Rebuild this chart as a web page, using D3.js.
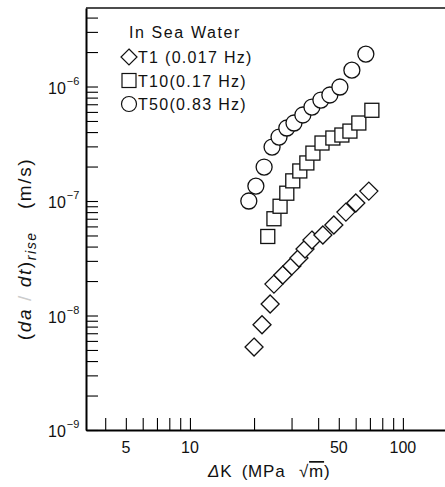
<!DOCTYPE html>
<html>
<head>
<meta charset="utf-8">
<script src="https://cdn.jsdelivr.net/npm/d3@7"></script>
<style>
  body { margin: 0; background: #fff; }
  text { font-family: "Liberation Sans", Arial, sans-serif; fill: #111; }
</style>
</head>
<body>
<div id="chart"></div>
<script>
// values: dK (MPa sqrt m), (da/dt)rise (m/s)
var t1K = [20.0, 21.8, 23.8, 24.8, 27.3, 30.1, 32.5, 34.7, 37.4, 42.1, 47.4, 54.0, 60.1, 69.2];
var t1V = [5.3e-9, 8.3e-9, 1.26e-8, 1.88e-8, 2.26e-8, 2.71e-8, 3.18e-8, 3.81e-8, 4.56e-8, 5.05e-8, 6.17e-8, 8.0e-8, 9.6e-8, 1.22e-7];
var t10K = [23.2, 24.8, 26.5, 28.5, 30.4, 32.8, 35.4, 37.8, 41.7, 46.9, 51.7, 56.4, 62.1, 71.5];
var t10V = [4.9e-8, 7.0e-8, 9.0e-8, 1.17e-7, 1.5e-7, 1.83e-7, 2.15e-7, 2.62e-7, 3.21e-7, 3.55e-7, 3.77e-7, 4.08e-7, 4.8e-7, 6.2e-7];
var t50K = [18.9, 20.4, 22.3, 24.3, 26.2, 28.5, 30.8, 33.9, 37.4, 41.2, 45.4, 50.6, 57.6, 67.0];
var t50V = [1.0e-7, 1.35e-7, 1.98e-7, 2.96e-7, 3.62e-7, 4.34e-7, 4.8e-7, 5.64e-7, 6.62e-7, 7.62e-7, 8.43e-7, 9.9e-7, 1.39e-6, 1.92e-6];

var xTicks = [4, 5, 6, 7, 8, 9, 10, 20, 30, 40, 50, 60, 70, 80, 90, 100];
var xLabels = [5, 10, 50, 100];
var yTicks = [1e-9, 2e-9, 3e-9, 4e-9, 5e-9, 6e-9, 7e-9, 8e-9, 9e-9,
              1e-8, 2e-8, 3e-8, 4e-8, 5e-8, 6e-8, 7e-8, 8e-8, 9e-8,
              1e-7, 2e-7, 3e-7, 4e-7, 5e-7, 6e-7, 7e-7, 8e-7, 9e-7,
              1e-6, 2e-6, 3e-6, 4e-6];
var yLabels = [-9, -8, -7, -6];
var legendRows = ["T1 (0.017 Hz)", "T10(0.17 Hz)", "T50(0.83 Hz)"];

var w = 445, h = 487;
var padL = 86, padT = 8, padB = 430;

var svg = d3.select("#chart").append("svg")
	.attr("width", w)
	.attr("height", h);

var x = d3.scaleLog().domain([3.25, 200]).range([padL, 467]);
var y = d3.scaleLog().domain([1e-9, 4.85e-6]).range([padB, padT]);

// frame top (right side runs off the picture)
svg.append("line")
	.attr("x1", padL).attr("x2", w)
	.attr("y1", padT).attr("y2", padT)
	.attr("stroke", "#111").attr("stroke-width", 1.6);

var xAxis = d3.axisBottom(x).tickValues(xTicks).tickFormat("").tickSizeInner(-12).tickSizeOuter(0);
svg.append("g")
	.attr("transform", "translate(0," + padB + ")")
	.call(xAxis)
	.call(function(g){
		g.select(".domain").attr("stroke-width", 1.8);
		g.selectAll(".tick line").attr("stroke-width", 1.1);
	});

var yAxis = d3.axisLeft(y).tickValues(yTicks).tickFormat("").tickSizeInner(-12).tickSizeOuter(0);
svg.append("g")
	.attr("transform", "translate(" + padL + ",0)")
	.call(yAxis)
	.call(function(g){
		g.select(".domain").attr("stroke-width", 2);
		g.selectAll(".tick line").attr("stroke-width", 1.1);
	});

// tick labels
svg.selectAll(".xlab")
	.data(xLabels)
	.enter().append("text")
	.attr("class", "xlab")
	.attr("x", function(d){ return x(d); })
	.attr("y", 453)
	.attr("text-anchor", "middle")
	.attr("font-size", 16)
	.text(function(d){ return d; });

var ylab = svg.selectAll(".ylab")
	.data(yLabels)
	.enter().append("text")
	.attr("class", "ylab")
	.attr("x", 48)
	.attr("y", function(d){ return y(Math.pow(10, d)) + 7; })
	.attr("font-size", 16);
ylab.append("tspan").text("10");
ylab.append("tspan")
	.attr("dy", -9)
	.attr("dx", 1)
	.attr("font-size", 11)
	.text(function(d){ return "\u2212" + (-d); });

// axis titles
var xt = svg.append("text")
	.attr("x", 208)
	.attr("y", 477)
	.attr("font-size", 17)
	.attr("letter-spacing", 0.8);
xt.append("tspan").attr("font-style", "italic").text("\u0394");
xt.append("tspan").text("K\u2002(MPa\u2002\u2009\u221A");
xt.append("tspan").attr("text-decoration", "overline").text("m");
xt.append("tspan").text(")");

var yt = svg.append("text")
	.attr("transform", "translate(31,249) rotate(-90)")
	.attr("text-anchor", "middle")
	.attr("font-size", 19)
	.attr("letter-spacing", 1.6);
yt.append("tspan").text("(");
yt.append("tspan").attr("font-style", "italic").text("da");
yt.append("tspan").attr("fill", "#ccc").text("  /  ");
yt.append("tspan").attr("font-style", "italic").text("dt");
yt.append("tspan").text(")");
yt.append("tspan").attr("font-style", "italic").attr("font-size", 14).attr("dy", 5).text("rise");
yt.append("tspan").attr("dy", -5).text("\u2002\u2002(m/s)");

// data
function pts(K, V){ return K.map(function(k, i){ return [k, V[i]]; }); }

svg.selectAll(".t50")
	.data(pts(t50K, t50V))
	.enter().append("circle")
	.attr("class", "t50")
	.attr("cx", function(d){ return x(d[0]); })
	.attr("cy", function(d){ return y(d[1]); })
	.attr("r", 8)
	.attr("fill", "#fff").attr("stroke", "#111").attr("stroke-width", 1.3);

svg.selectAll(".t10")
	.data(pts(t10K, t10V))
	.enter().append("rect")
	.attr("class", "t10")
	.attr("x", function(d){ return x(d[0]) - 7; })
	.attr("y", function(d){ return y(d[1]) - 7; })
	.attr("width", 14).attr("height", 14)
	.attr("fill", "#fff").attr("stroke", "#111").attr("stroke-width", 1.3);

svg.selectAll(".t1")
	.data(pts(t1K, t1V))
	.enter().append("path")
	.attr("class", "t1")
	.attr("d", "M0,-9L9,0L0,9L-9,0Z")
	.attr("transform", function(d){ return "translate(" + x(d[0]) + "," + y(d[1]) + ")"; })
	.attr("fill", "#fff").attr("stroke", "#111").attr("stroke-width", 1.3);

// legend
svg.append("text")
	.attr("x", 129).attr("y", 38)
	.attr("font-size", 16)
	.attr("letter-spacing", 1.6)
	.text("In Sea Water");

var leg = svg.selectAll(".leg")
	.data(legendRows)
	.enter().append("g")
	.attr("class", "leg")
	.attr("transform", function(d, i){ return "translate(129," + (57 + i * 23.5) + ")"; });
leg.append("text")
	.attr("x", 9).attr("y", 6)
	.attr("font-size", 16)
	.attr("letter-spacing", 1.3)
	.text(function(d){ return d; });
leg.filter(function(d, i){ return i === 0; }).append("path")
	.attr("d", "M0,-8L8,0L0,8L-8,0Z")
	.attr("fill", "none").attr("stroke", "#111").attr("stroke-width", 1.2);
leg.filter(function(d, i){ return i === 1; }).append("rect")
	.attr("x", -7).attr("y", -7).attr("width", 14).attr("height", 14)
	.attr("fill", "none").attr("stroke", "#111").attr("stroke-width", 1.2);
leg.filter(function(d, i){ return i === 2; }).append("circle")
	.attr("r", 7.5)
	.attr("fill", "none").attr("stroke", "#111").attr("stroke-width", 1.2);
</script>
</body>
</html>
